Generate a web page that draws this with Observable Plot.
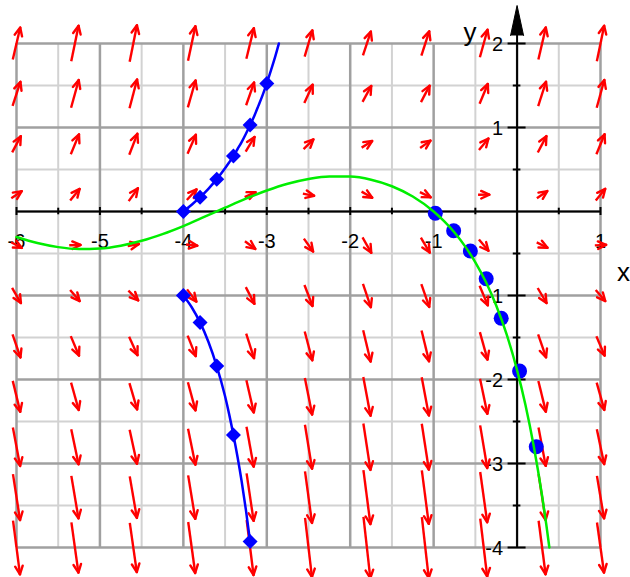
<!DOCTYPE html>
<html><head><meta charset="utf-8">
<script src="https://cdn.jsdelivr.net/npm/d3@7"></script>
<script src="https://cdn.jsdelivr.net/npm/@observablehq/plot@0.6"></script>
<style>body{margin:0;background:#fff}#chart svg{display:block}</style>
</head><body><div id="chart"></div>
<script>
// ---- direction field (slope read at each arrow) ----
const fieldX = [-6, -5.3, -4.6, -3.9, -3.2, -2.5, -1.8, -1.1, -0.4, 0.3, 1.0];
const fieldY = [2, 1.4, 0.8, 0.2, -0.4, -1.0, -1.6, -2.2, -2.8, -3.4, -4.0];
const fieldSlope = [
  [4.28, 4.83, 4.99, 4.69, 4.06, 3.40, 3.03, 3.11, 3.61, 4.30, 4.84],
  [3.08, 3.63, 3.79, 3.49, 2.86, 2.20, 1.83, 1.91, 2.41, 3.10, 3.64],
  [1.88, 2.43, 2.59, 2.29, 1.66, 1.00, 0.63, 0.71, 1.21, 1.90, 2.44],
  [0.68, 1.23, 1.39, 1.09, 0.46, -0.20, -0.57, -0.49, 0.01, 0.70, 1.24],
  [-0.52, 0.03, 0.19, -0.11, -0.74, -1.40, -1.77, -1.69, -1.19, -0.50, 0.04],
  [-1.72, -1.17, -1.01, -1.31, -1.94, -2.60, -2.97, -2.89, -2.39, -1.70, -1.16],
  [-2.92, -2.37, -2.21, -2.51, -3.14, -3.80, -4.17, -4.09, -3.59, -2.90, -2.36],
  [-4.12, -3.57, -3.41, -3.71, -4.34, -5.00, -5.37, -5.29, -4.79, -4.10, -3.56],
  [-5.32, -4.77, -4.61, -4.91, -5.54, -6.20, -6.57, -6.49, -5.99, -5.30, -4.76],
  [-6.52, -5.97, -5.81, -6.11, -6.74, -7.40, -7.77, -7.69, -7.19, -6.50, -5.96],
  [-7.72, -7.17, -7.01, -7.31, -7.94, -8.60, -8.97, -8.89, -8.39, -7.70, -7.16]
];
// ---- green solution curve ----
const greenX = [-6, -5.75, -5.5, -5.25, -5, -4.75, -4.5, -4.25, -4, -3.75, -3.5, -3.25, -3, -2.75, -2.5, -2.25, -2, -1.75, -1.5, -1.25, -1, -0.875, -0.75, -0.625, -0.5, -0.375, -0.25, -0.125, 0, 0.1, 0.2, 0.3, 0.35, 0.387];
const greenY = [-0.304, -0.376, -0.424, -0.446, -0.440, -0.407, -0.349, -0.269, -0.173, -0.065, 0.045, 0.153, 0.250, 0.331, 0.388, 0.418, 0.416, 0.378, 0.301, 0.178, 0.000, -0.115, -0.250, -0.412, -0.605, -0.837, -1.119, -1.463, -1.888, -2.301, -2.794, -3.385, -3.724, -4.0];
// ---- blue curves ----
const blueUpX = [-4, -3.9, -3.8, -3.7, -3.6, -3.5, -3.45, -3.4, -3.35, -3.3, -3.25, -3.2, -3.15, -3.1, -3.05, -3.0, -2.95, -2.9, -2.855];
const blueUpY = [0, 0.08, 0.17, 0.27, 0.385, 0.515, 0.586, 0.66, 0.744, 0.83, 0.926, 1.03, 1.138, 1.26, 1.386, 1.525, 1.68, 1.84, 2.0];
const blueLowX = [-4, -3.9, -3.8, -3.7, -3.6, -3.5, -3.45, -3.4, -3.35, -3.3, -3.25, -3.2];
const blueLowY = [-1, -1.14, -1.32, -1.55, -1.84, -2.20, -2.418, -2.66, -2.925, -3.22, -3.555, -3.93];
const diamondUpX = [-4, -3.8, -3.6, -3.4, -3.2, -3.0];
const diamondUpY = [0, 0.17, 0.385, 0.66, 1.03, 1.525];
const diamondLowX = [-4, -3.8, -3.6, -3.4, -3.2];
const diamondLowY = [-1, -1.32, -1.84, -2.66, -3.93];
const circleX = [-0.98, -0.76, -0.56, -0.37, -0.19, 0.03, 0.23];
const circleY = [-0.02, -0.23, -0.47, -0.80, -1.27, -1.90, -2.80];
// ---- ticks ----
const xTickLabels = [-6, -5, -4, -3, -2, -1, 1];
const yTickLabels = [2, 1, -1, -2, -3, -4];
const gridMajorX = [-6, -5, -4, -3, -2, -1, 0, 1];
const gridMinorX = [-5.5, -4.5, -3.5, -2.5, -1.5, -0.5, 0.5];
const gridMajorY = [-4, -3, -2, -1, 0, 1, 2];
const gridMinorY = [-3.5, -2.5, -1.5, -0.5, 0.5, 1.5];

// ---- layout ----
const W = 630, H = 577, mL = 16, mR = 30, mT = 43, mB = 30;
const xDom = [-6, 1], yDom = [-4, 2];
const kx = (W - mL - mR) / (xDom[1] - xDom[0]);
const ky = (H - mT - mB) / (yDom[1] - yDom[0]);
const pxX = p => p / kx, pxY = p => p / ky;

// arrows built from slopes (length grows with magnitude)
const shafts = [], wings = [];
fieldY.forEach((y, i) => fieldX.forEach((x, j) => {
  const f = fieldSlope[i][j];
  const m = Math.hypot(1, f);
  const L = 5 + 6.3 * m;
  const ux = 1 / m, uy = f / m;
  const hx = ux * L / 2, hy = uy * L / 2;
  const x1 = x - pxX(hx), y1 = y - pxY(hy), x2 = x + pxX(hx), y2 = y + pxY(hy);
  shafts.push({x1, y1, x2, y2});
  const wl = 9, a = 25 * Math.PI / 180;
  for (const s of [-1, 1]) {
    const c = Math.cos(s * a), sn = Math.sin(s * a);
    const rx = -ux * c + uy * sn, ry = -ux * sn - uy * c;
    wings.push({x1: x2, y1: y2, x2: x2 + pxX(rx * wl), y2: y2 + pxY(ry * wl)});
  }
}));

const pts = (X, Y) => X.map((x, i) => ({x, y: Y[i]}));
const yAxisTop = 2.1;
const arrowHead = [
  {x: -pxX(6.5), y: 2 + pxY(8)},
  {x: 0, y: 2 + pxY(38)},
  {x: pxX(6.5), y: 2 + pxY(8)}
];
const halfTicks = [-5.5, -4.5, -3.5, -2.5, -1.5, -0.5, 0.5];
const intTicksX = [-6, -5, -4, -3, -2, -1, 1];
const intTicksY = [-4, -3, -2, -1, 1, 2];
const halfTicksY = [-3.5, -2.5, -1.5, -0.5, 0.5, 1.5];

const diamond = {draw(ctx, size) {
  const r = Math.sqrt(size / Math.PI);
  ctx.moveTo(0, -r); ctx.lineTo(r, 0); ctx.lineTo(0, r); ctx.lineTo(-r, 0); ctx.closePath();
}};

const font = "'Liberation Sans', Arial, Helvetica, sans-serif";
const chart = Plot.plot({
  width: W, height: H,
  marginLeft: mL, marginRight: mR, marginTop: mT, marginBottom: mB,
  x: {domain: xDom, axis: null},
  y: {domain: yDom, axis: null},
  style: {background: "#fff", fontFamily: font, overflow: "visible"},
  marks: [
    Plot.ruleX(gridMinorX, {x: d => d, y1: -4, y2: 2, stroke: "#d2d2d2", strokeWidth: 2}),
    Plot.ruleY(gridMinorY, {y: d => d, x1: -6, x2: 1, stroke: "#d2d2d2", strokeWidth: 2}),
    Plot.ruleX(gridMajorX, {x: d => d, y1: -4, y2: 2, stroke: "#a0a0a0", strokeWidth: 2.5}),
    Plot.ruleY(gridMajorY, {y: d => d, x1: -6, x2: 1, stroke: "#a0a0a0", strokeWidth: 2.5}),
    // axes
    Plot.ruleY([0], {x1: -6, x2: 1, stroke: "#000", strokeWidth: 2}),
    Plot.ruleX([0], {y1: -4, y2: yAxisTop, stroke: "#000", strokeWidth: 2}),
    Plot.line(arrowHead, {x: "x", y: "y", fill: "#000", stroke: "#000", strokeWidth: 1}),
    Plot.ruleX(intTicksX, {x: d => d, y1: -pxY(4), y2: pxY(4), stroke: "#000", strokeWidth: 2}),
    Plot.ruleX(halfTicks, {x: d => d, y1: -pxY(3.3), y2: pxY(3.3), stroke: "#000", strokeWidth: 2}),
    Plot.ruleY(intTicksY, {y: d => d, x1: -pxX(9), x2: pxX(9), stroke: "#000", strokeWidth: 2}),
    Plot.ruleY(halfTicksY, {y: d => d, x1: -pxX(3.8), x2: pxX(3.8), stroke: "#000", strokeWidth: 2}),
    // tick labels
    Plot.text(xTickLabels, {x: d => d, y: 0, text: d => String(d), dy: 30, fontSize: 20, fill: "#000"}),
    Plot.text(yTickLabels, {x: 0, y: d => d, text: d => String(d), textAnchor: "end", dx: -14, dy: 1.5, fontSize: 20, fill: "#000"}),
    // direction field
    Plot.link(shafts, {x1: "x1", y1: "y1", x2: "x2", y2: "y2", stroke: "#ff0000", strokeWidth: 2.4}),
    Plot.link(wings, {x1: "x1", y1: "y1", x2: "x2", y2: "y2", stroke: "#ff0000", strokeWidth: 2.4, strokeLinecap: "round"}),
    // blue curves
    Plot.line(pts(blueUpX, blueUpY), {x: "x", y: "y", stroke: "#0000ff", strokeWidth: 2.5, curve: "monotone-x"}),
    Plot.line(pts(blueLowX, blueLowY), {x: "x", y: "y", stroke: "#0000ff", strokeWidth: 2.5, curve: "monotone-x"}),
    Plot.dot(pts(diamondUpX, diamondUpY), {x: "x", y: "y", symbol: diamond, r: 7.5, fill: "#0000ff", stroke: "none"}),
    Plot.dot(pts(diamondLowX, diamondLowY), {x: "x", y: "y", symbol: diamond, r: 7.5, fill: "#0000ff", stroke: "none"}),
    Plot.dot(pts(circleX, circleY), {x: "x", y: "y", r: 7.5, fill: "#0000ff", stroke: "none"}),
    // green solution
    Plot.line(pts(greenX, greenY), {x: "x", y: "y", stroke: "#00ee00", strokeWidth: 2.5, curve: "monotone-x"}),
    // axis names
    Plot.text(["x"], {x: 1, y: 0, text: d => d, dx: 23, dy: 61, fontSize: 26, fill: "#000"}),
    Plot.text(["y"], {x: 0, y: 2, text: d => d, dx: -47, dy: -11, fontSize: 26, fill: "#000"})
  ]
});
document.getElementById("chart").appendChild(chart);
</script>
</body></html>
